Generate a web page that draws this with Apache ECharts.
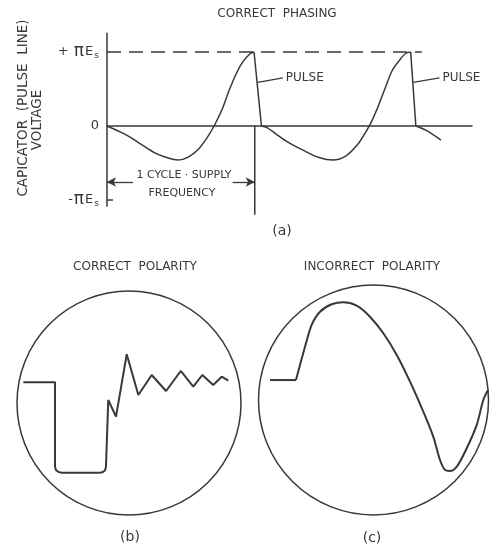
<!DOCTYPE html>
<html>
<head>
<meta charset="utf-8">
<script src="https://cdn.jsdelivr.net/npm/echarts@6/dist/echarts.min.js"></script>
<style>html,body{margin:0;padding:0;background:#fff;}#c{width:490px;height:550px;}</style>
</head>
<body>
<div id="c"></div>
<script>
// ---- Panel (a): capacitor voltage, x in supply cycles, y in units of πEs ----
var wave1 = [[0,0],[0.12,-0.11],[0.21,-0.22],[0.32,-0.36],[0.41,-0.43],[0.48,-0.46],[0.55,-0.42],[0.62,-0.31],[0.68,-0.15],[0.73,0.02],[0.78,0.23],[0.83,0.50],[0.88,0.73],[0.92,0.87],[0.97,0.98],[0.995,1.0]];
var pulse1 = [[0.995,1.0],[1.045,0]];
var wave2 = [[1.045,0],[1.08,-0.02],[1.21,-0.20],[1.33,-0.33],[1.44,-0.43],[1.53,-0.46],[1.62,-0.40],[1.70,-0.24],[1.745,-0.10],[1.785,0.04],[1.83,0.24],[1.88,0.50],[1.93,0.75],[1.98,0.89],[2.02,0.98],[2.055,1.0]];
var pulse2 = [[2.055,1.0],[2.09,0]];
var tail = [[2.09,0],[2.16,-0.06],[2.26,-0.19]];
var peakLevel = [[0,1],[2.13,1]];
var yAxisBar = [[0,1.26],[0,-1.09]];
var cycleMarker = [[1,0],[1,-1.2]];
var leader1 = [[1.02,0.59],[1.19,0.65]];
var leader2 = [[2.072,0.59],[2.25,0.65]];
var cycleArrowLeft = [[0.176,-0.757],[0,-0.757]];
var cycleArrowRight = [[0.85,-0.757],[1,-0.757]];
var yTickValues = [-1, 0, 1];
var yTickLabels = ['-{p|\u03C0}E{s|s}', '0', '+ {p|\u03C0}E{s|s}'];

// ---- Panel (b): correct polarity trace (screen units, circle radius = 1) ----
var traceB = [[-0.927,0.185],[-0.649,0.185],[-0.649,-0.569],[-0.640,-0.600],[-0.620,-0.615],[-0.590,-0.622],[-0.254,-0.622],[-0.228,-0.617],[-0.210,-0.600],[-0.202,-0.569],[-0.182,0.027],[-0.114,-0.122],[-0.020,0.435],[0.082,0.071],[0.199,0.25],[0.325,0.107],[0.454,0.286],[0.564,0.146],[0.643,0.25],[0.739,0.161],[0.813,0.235],[0.871,0.199]];

// ---- Panel (c): incorrect polarity trace ----
var traceCFlat = [[-0.904,0.172],[-0.677,0.172]];
var traceCCurve = [[-0.677,0.172],[-0.642,0.302],[-0.598,0.459],[-0.540,0.647],[-0.467,0.761],[-0.365,0.825],[-0.264,0.842],[-0.147,0.813],[-0.031,0.718],[0.086,0.575],[0.203,0.388],[0.319,0.158],[0.435,-0.101],[0.522,-0.316],[0.581,-0.517],[0.624,-0.603],[0.668,-0.612],[0.727,-0.575],[0.814,-0.416],[0.901,-0.216],[0.959,0],[1.0,0.086]];

var INK = '#383838';
var FONT = 'DejaVu Sans';

function ln(data, opts) {
  var s = {
    type: 'line', data: data, symbol: 'none', silent: true, animation: false,
    lineStyle: { color: INK, width: 1.5 }, xAxisIndex: 0, yAxisIndex: 0
  };
  for (var k in opts) s[k] = opts[k];
  return s;
}

var hiddenAxis = { type: 'value', min: -1, max: 1, show: false };

var chart = echarts.init(document.getElementById('c'), null, { renderer: 'canvas' });
chart.setOption({
  backgroundColor: '#ffffff',
  animation: false,
  textStyle: { fontFamily: FONT, color: INK },
  grid: [
    { left: 107, top: 29.8, width: 365, height: 192.4 },
    { left: 15, top: 291, width: 228, height: 224 },
    { left: 259, top: 284, width: 229, height: 232 }
  ],
  xAxis: [
    { gridIndex: 0, type: 'value', min: 0, max: 2.47,
      axisLine: { show: true, onZero: true, lineStyle: { color: INK, width: 1.5 } },
      axisTick: { show: false }, axisLabel: { show: false }, splitLine: { show: false } },
    Object.assign({ gridIndex: 1 }, hiddenAxis),
    Object.assign({ gridIndex: 2 }, hiddenAxis)
  ],
  yAxis: [
    { gridIndex: 0, type: 'value', min: -1.3, max: 1.3,
      axisLine: { show: false },
      splitLine: { show: false },
      axisTick: { show: true, inside: true, length: 6, customValues: [-1], lineStyle: { color: INK, width: 1.5 } },
      axisLabel: { show: true, margin: 8, customValues: yTickValues, color: INK, fontFamily: FONT, fontSize: 13,
        formatter: function (v) { var i = yTickValues.indexOf(v); return i >= 0 ? yTickLabels[i] : ''; },
        rich: {
          p: { fontSize: 17, fontFamily: FONT, color: INK, padding: [0, 1, 0, 1] },
          s: { fontSize: 9, fontFamily: FONT, color: INK, padding: [8, 0, 0, 1] }
        } } },
    Object.assign({ gridIndex: 1 }, hiddenAxis),
    Object.assign({ gridIndex: 2 }, hiddenAxis)
  ],
  polar: [
    { center: [129, 403], radius: 112 },
    { center: [373.5, 400], radius: 115 }
  ],
  angleAxis: [
    { polarIndex: 0, type: 'value', min: 0, max: 360, axisLine: { show: true, lineStyle: { color: INK, width: 1.5 } },
      axisTick: { show: false }, axisLabel: { show: false }, splitLine: { show: false } },
    { polarIndex: 1, type: 'value', min: 0, max: 360, axisLine: { show: true, lineStyle: { color: INK, width: 1.5 } },
      axisTick: { show: false }, axisLabel: { show: false }, splitLine: { show: false } }
  ],
  radiusAxis: [
    { polarIndex: 0, type: 'value', min: 0, max: 1, show: false },
    { polarIndex: 1, type: 'value', min: 0, max: 1, show: false }
  ],
  series: [
    ln(yAxisBar),
    ln(peakLevel, { lineStyle: { color: INK, width: 1.5, type: [14, 8] } }),
    ln(wave1, { smooth: 0.3 }),
    ln(pulse1),
    ln(wave2, { smooth: 0.3 }),
    ln(pulse2),
    ln(tail, { smooth: 0.3 }),
    ln(cycleMarker, {
      markLine: {
        silent: true, symbol: ['none', 'arrow'], symbolSize: [7, 9], animation: false,
        label: { show: false },
        lineStyle: { type: 'solid', color: INK, width: 1.3 },
        data: [
          [{ coord: cycleArrowLeft[0] }, { coord: cycleArrowLeft[1] }],
          [{ coord: cycleArrowRight[0] }, { coord: cycleArrowRight[1] }]
        ]
      }
    }),
    ln(leader1, { smooth: 0.3, lineStyle: { color: INK, width: 1.2 }, endLabel: { show: true, formatter: 'PULSE', distance: 3, color: INK, fontFamily: FONT, fontSize: 12 } }),
    ln(leader2, { smooth: 0.3, lineStyle: { color: INK, width: 1.2 }, endLabel: { show: true, formatter: 'PULSE', distance: 3, color: INK, fontFamily: FONT, fontSize: 12 } }),
    ln(traceB, { xAxisIndex: 1, yAxisIndex: 1, lineStyle: { color: INK, width: 2 } }),
    ln(traceCFlat, { xAxisIndex: 2, yAxisIndex: 2, lineStyle: { color: INK, width: 2 } }),
    ln(traceCCurve, { xAxisIndex: 2, yAxisIndex: 2, smooth: 0.3, lineStyle: { color: INK, width: 2 } })
  ],
  graphic: [
    { type: 'text', x: 277, y: 14, style: { text: 'CORRECT  PHASING', fontSize: 12, fontFamily: FONT, fill: INK, textAlign: 'center', textVerticalAlign: 'middle' } },
    { type: 'text', x: 23, y: 108, rotation: Math.PI / 2, style: { text: 'CAPICATOR  (PULSE  LINE)', fontSize: 13.5, fontFamily: FONT, fill: INK, textAlign: 'center', textVerticalAlign: 'middle' } },
    { type: 'text', x: 37, y: 120, rotation: Math.PI / 2, style: { text: 'VOLTAGE', fontSize: 13.5, fontFamily: FONT, fill: INK, textAlign: 'center', textVerticalAlign: 'middle' } },
    { type: 'text', x: 184, y: 175, style: { text: '1 CYCLE \u00B7 SUPPLY', fontSize: 11, fontFamily: FONT, fill: INK, textAlign: 'center', textVerticalAlign: 'middle' } },
    { type: 'text', x: 182, y: 193, style: { text: 'FREQUENCY', fontSize: 11, fontFamily: FONT, fill: INK, textAlign: 'center', textVerticalAlign: 'middle' } },
    { type: 'text', x: 282, y: 231, style: { text: '(a)', fontSize: 14, fontFamily: FONT, fill: INK, textAlign: 'center', textVerticalAlign: 'middle' } },
    { type: 'text', x: 135, y: 267, style: { text: 'CORRECT  POLARITY', fontSize: 12, fontFamily: FONT, fill: INK, textAlign: 'center', textVerticalAlign: 'middle' } },
    { type: 'text', x: 372, y: 267, style: { text: 'INCORRECT  POLARITY', fontSize: 12, fontFamily: FONT, fill: INK, textAlign: 'center', textVerticalAlign: 'middle' } },
    { type: 'text', x: 130, y: 537, style: { text: '(b)', fontSize: 14, fontFamily: FONT, fill: INK, textAlign: 'center', textVerticalAlign: 'middle' } },
    { type: 'text', x: 372, y: 538, style: { text: '(c)', fontSize: 14, fontFamily: FONT, fill: INK, textAlign: 'center', textVerticalAlign: 'middle' } }
  ]
});
</script>
</body>
</html>
